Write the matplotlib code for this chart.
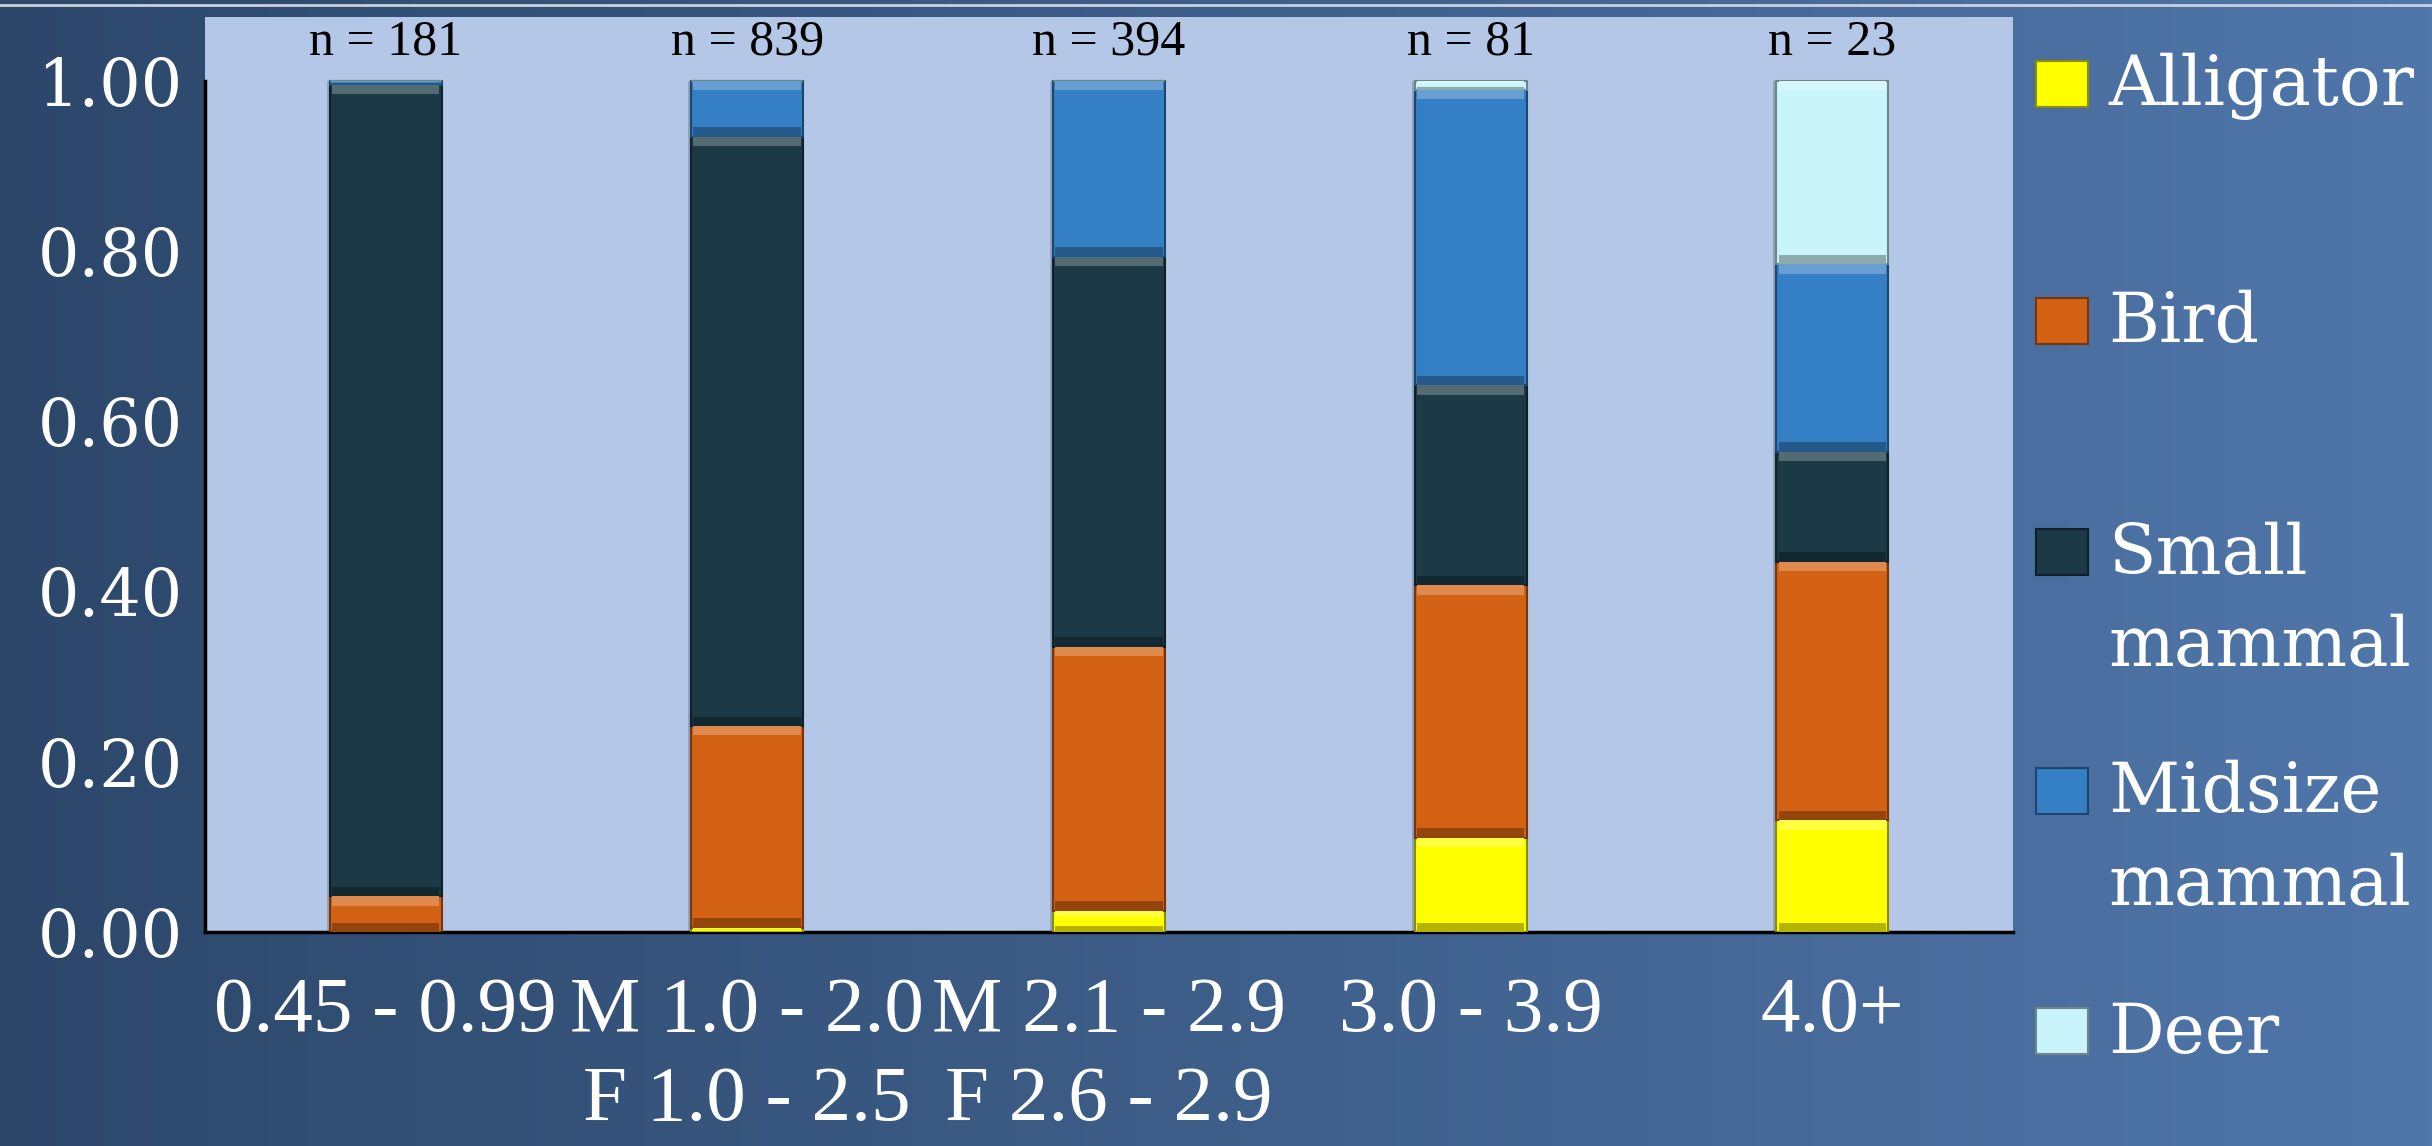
import numpy as np
import matplotlib
matplotlib.use("Agg")
import matplotlib.pyplot as plt
from matplotlib.colors import to_rgb
from matplotlib.patches import Rectangle

# === DATA ===
size_classes = ["0.45 - 0.99", "M 1.0 - 2.0\nF 1.0 - 2.5", "M 2.1 - 2.9\nF 2.6 - 2.9",
                "3.0 - 3.9", "4.0+"]
n_labels = ["n = 181", "n = 839", "n = 394", "n = 81", "n = 23"]
prey = ["Alligator", "Bird", "Small\nmammal", "Midsize\nmammal", "Deer"]
alligator = [0.000, 0.005, 0.025, 0.111, 0.131]
bird = [0.042, 0.237, 0.310, 0.296, 0.304]
small_mammal = [0.953, 0.692, 0.458, 0.235, 0.129]
midsize_mammal = [0.005, 0.066, 0.207, 0.347, 0.220]
deer = [0.000, 0.000, 0.000, 0.011, 0.216]
yticks = [0.0, 0.2, 0.4, 0.6, 0.8, 1.0]

series = [alligator, bird, small_mammal, midsize_mammal, deer]
COLORS = ["#FFFF00", "#D46214", "#1B3A46", "#357FC4", "#C8F4FA"]
PLOT_BG = "#B4C7E7"


def shade(c, f):
    r = np.array(to_rgb(c))
    if f > 0:
        return tuple(r + (1 - r) * f)
    return tuple(r * (1 + f))


fig = plt.figure(figsize=(24.32, 11.46), dpi=100)

# slide background gradient
bg = fig.add_axes([0, 0, 1, 1], zorder=-10)
left_c = np.array([44, 71, 106]) / 255
right_c = np.array([80, 118, 170]) / 255
t = np.linspace(0, 1, 400)
grad = left_c[None, :] * (1 - t[:, None]) + right_c[None, :] * t[:, None]
bg.imshow(grad[None, :, :], aspect="auto", extent=[0, 1, 0, 1])
bg.axhline(1 - 5 / 1146, color="#C9D1DE", lw=2)
bg.set_xlim(0, 1)
bg.set_ylim(0, 1)
bg.axis("off")

ax = fig.add_axes([0.0842, 0.1867, 0.7436, 0.7984])
ax.set_facecolor(PLOT_BG)
x = np.arange(len(size_classes))
w = 0.31

# soft shadow behind each stacked bar
totals = np.sum(np.array(series), axis=0)
ax.bar(x - 0.008, totals, w, color="#52627c", alpha=0.35, linewidth=0, zorder=2)

bottom = np.zeros(len(x))
for vals, col in zip(series, COLORS):
    vals = np.array(vals)
    ax.bar(x, vals, w, bottom=bottom, color=col, edgecolor=shade(col, -0.45),
           linewidth=1.5, zorder=3)
    # bevel: light strip on top, dark strip at bottom of each segment
    strip = np.minimum(0.011, vals * 0.3)
    ax.bar(x, strip, w * 0.96, bottom=bottom + vals - strip, color=shade(col, 0.25),
           linewidth=0, zorder=4)
    ax.bar(x, strip, w * 0.96, bottom=bottom, color=shade(col, -0.3),
           linewidth=0, zorder=4)
    bottom = bottom + vals

for xi, lab in zip(x, n_labels):
    ax.text(xi, 1.045, lab, ha="center", va="center", fontsize=36,
            family="Liberation Serif", color="black")

ax.set_xlim(-0.5, len(x) - 0.5)
ax.set_ylim(0, 1.0745)
ax.set_yticks(yticks)
ax.set_yticklabels([f"{v:.2f}" for v in yticks], family="DejaVu Serif",
                   fontsize=47, color="white")
ax.set_xticks(x)
ax.set_xticklabels(size_classes, family="Liberation Serif", fontsize=57,
                   color="white", linespacing=1.32)
ax.tick_params(axis="y", length=0, pad=16)
ax.tick_params(axis="x", length=0, pad=32)
for s in ["top", "right"]:
    ax.spines[s].set_visible(False)
ax.spines["left"].set_bounds(0, 1)
ax.spines["left"].set_linewidth(2.5)
ax.spines["bottom"].set_linewidth(2.5)
ax.spines["left"].set_color("black")
ax.spines["bottom"].set_color("black")

# legend drawn by hand so markers stay evenly spaced
leg_y = [0.927, 0.720, 0.518, 0.310, 0.100]
for lab, col, yc in zip(prey, COLORS, leg_y):
    fig.patches.append(Rectangle((0.8370, yc - 0.020), 0.0215, 0.040,
                                 transform=fig.transFigure, facecolor=col,
                                 edgecolor=shade(col, -0.45), linewidth=1.5))
    fig.text(0.867, yc + 0.027, lab, ha="left", va="top", fontsize=50,
             family="DejaVu Serif", color="white", linespacing=1.5)

fig.savefig("out.png", dpi=100)
